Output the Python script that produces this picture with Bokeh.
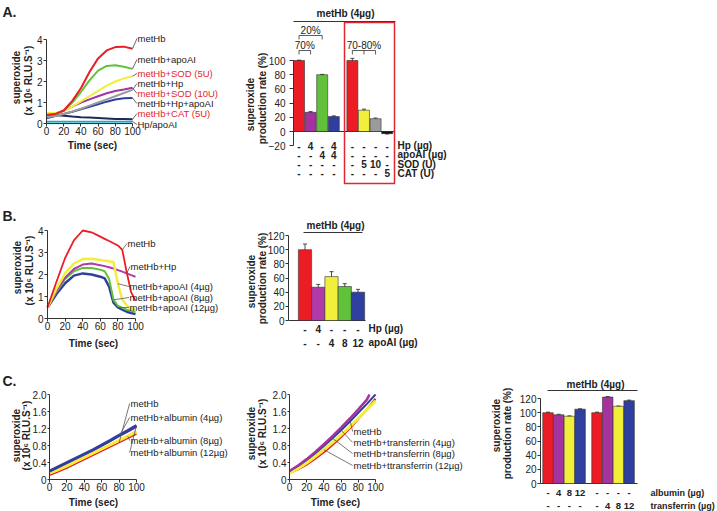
import math
from bokeh.plotting import figure
from bokeh.models import (Range1d, LinearAxis, FixedTicker, ColumnDataSource, LabelSet, Label,
                          Whisker, TeeHead, CustomJSTickFormatter)
from bokeh.layouts import column, row
from bokeh.core.properties import value, field
from bokeh.embed import file_html
from bokeh.resources import INLINE

FONT = "Liberation Sans"
INK = "#222222"
RED = "#ec1c24"
LRED = "#e3262b"
PURPLE = "#a4329f"
MAGENTA = "#b13aa9"
GREEN = "#62c13b"
YELLOW = "#f1ef3a"
BLUE = "#2f3f9f"
GRAY = "#9b9b9b"
NAVY = "#1f2a5a"
CYAN = "#7fd8ea"
TEAL = "#3a9fb5"
BLACK = "#111111"

# ---------------- data ----------------
# Panel A (left): superoxide (x 10^6 RLU/s) vs time
A_time = [0, 10, 20, 30, 40, 50, 60, 70, 80, 90, 100]
A_metHb          = [0.40, 0.45, 0.62, 1.08, 1.68, 2.45, 3.10, 3.48, 3.64, 3.66, 3.56]
A_metHb_apoAI    = [0.40, 0.44, 0.60, 1.00, 1.50, 2.05, 2.52, 2.74, 2.77, 2.70, 2.60]
A_metHb_SOD5     = [0.50, 0.50, 0.60, 0.80, 1.05, 1.30, 1.55, 1.80, 2.00, 2.15, 2.25]
A_metHb_Hp       = [0.30, 0.36, 0.45, 0.57, 0.70, 0.85, 1.00, 1.15, 1.30, 1.45, 1.60]
A_metHb_SOD10    = [0.35, 0.45, 0.60, 0.80, 1.00, 1.15, 1.30, 1.44, 1.55, 1.62, 1.70]
A_metHb_Hp_apoAI = [0.25, 0.35, 0.45, 0.56, 0.68, 0.80, 0.92, 1.04, 1.14, 1.20, 1.22]
A_metHb_CAT      = [0.45, 0.41, 0.37, 0.33, 0.30, 0.28, 0.26, 0.24, 0.22, 0.21, 0.20]
A_Hp_alone       = [0.10, 0.10, 0.10, 0.10, 0.10, 0.10, 0.10, 0.10, 0.10, 0.10, 0.10]
A_apoAI_alone    = [0.04, 0.04, 0.04, 0.04, 0.04, 0.04, 0.04, 0.04, 0.04, 0.04, 0.04]
A_names = ["metHb", "metHb+apoAI", "metHb+SOD (5U)", "metHb+Hp", "metHb+SOD (10U)",
           "metHb+Hp+apoAI", "metHb+CAT (5U)", "Hp/apoAI"]

# Panel A (right): production rate (%)
A_bar_values = [100, 27, 80, 21, 100, 30, 18, -3]
A_bar_err = [0.5, 1.0, 0.5, 1.0, 3.0, 1.5, 1.0, 0.5]
A_row_names = ["Hp (µg)", "apoAI (µg)", "SOD (U)", "CAT (U)"]
A_row_Hp = ["-", "4", "-", "4", "-", "-", "-", "-"]
A_row_apoAI = ["-", "-", "4", "4", "-", "-", "-", "-"]
A_row_SOD = ["-", "-", "-", "-", "-", "5", "10", "-"]
A_row_CAT = ["-", "-", "-", "-", "-", "-", "-", "5"]
A_brackets = ["20%", "70%", "70-80%"]

# Panel B (left)
B_time = [0, 10, 20, 30, 40, 50, 60, 65, 70, 75, 80, 85, 90, 95, 100]
B_metHb    = [0.50, 1.65, 2.75, 3.55, 4.00, 3.92, 3.72, 3.62, 3.52, 3.42, 3.32, 3.12, 2.10, 1.20, 0.80]
B_apoAI4   = [0.50, 1.35, 2.05, 2.50, 2.70, 2.72, 2.66, 2.62, 2.60, 2.56, 1.58, 0.85, 0.60, 0.46, 0.38]
B_Hp       = [0.50, 1.25, 1.85, 2.25, 2.45, 2.50, 2.42, 2.38, 2.33, 2.27, 2.20, 2.13, 2.05, 1.97, 1.90]
B_apoAI8   = [0.50, 1.20, 1.80, 2.15, 2.30, 2.30, 2.22, 2.15, 1.80, 0.85, 0.58, 0.48, 0.40, 0.34, 0.30]
B_apoAI12  = [0.50, 1.10, 1.60, 1.95, 2.05, 2.00, 1.90, 1.82, 1.45, 0.72, 0.50, 0.40, 0.31, 0.25, 0.20]
B_names = ["metHb", "metHb+Hp", "metHb+apoAI (4µg)", "metHb+apoAI (8µg)", "metHb+apoAI (12µg)"]

# Panel B (right)
B_bar_values = [100, 47, 62, 48, 40]
B_bar_err = [8, 4, 7, 4, 4]
B_row_names = ["Hp (µg)", "apoAI (µg)"]
B_row_Hp = ["-", "4", "-", "-", "-"]
B_row_apoAI = ["-", "-", "4", "8", "12"]

# Panel C (left): albumin
C_time = [0, 10, 20, 30, 40, 50, 60, 70, 80, 90, 100]
C_alb_metHb = [0.10, 0.18, 0.27, 0.37, 0.47, 0.57, 0.67, 0.77, 0.87, 0.97, 1.07]
C_alb_4     = [0.19, 0.29, 0.39, 0.49, 0.59, 0.69, 0.80, 0.91, 1.02, 1.13, 1.24]
C_alb_8     = [0.15, 0.23, 0.32, 0.42, 0.52, 0.62, 0.72, 0.82, 0.92, 1.02, 1.13]
C_alb_12    = [0.20, 0.30, 0.40, 0.50, 0.60, 0.70, 0.81, 0.92, 1.04, 1.15, 1.27]
C_alb_names = ["metHb", "metHb+albumin (4µg)", "metHb+albumin (8µg)", "metHb+albumin (12µg)"]

# Panel C (middle): transferrin
C_tf_time4 = [0, 10, 20, 30, 40, 50, 60, 70, 80, 90, 93]
C_tf_metHb = [0.15, 0.24, 0.35, 0.49, 0.64, 0.81, 1.00, 1.20, 1.42, 1.65, 1.90]
C_tf_4     = [0.20, 0.33, 0.48, 0.65, 0.83, 1.02, 1.22, 1.43, 1.65, 1.88, 2.00]
C_tf_8     = [0.15, 0.26, 0.39, 0.54, 0.70, 0.87, 1.05, 1.24, 1.44, 1.64, 1.85]
C_tf_12    = [0.20, 0.32, 0.46, 0.62, 0.79, 0.97, 1.16, 1.36, 1.57, 1.78, 2.00]
C_tf_names = ["metHb", "metHb+transferrin (4µg)", "metHb+transferrin (8µg)",
              "metHb+ttransferrin (12µg)"]

# Panel C (right)
C_bar_values = [100, 97, 95, 105, 100, 122, 109, 117]
C_bar_err = [0.8, 0.8, 0.5, 0.5, 0.8, 0.8, 0.5, 0.8]
C_row_names = ["albumin (µg)", "transferrin (µg)"]
C_row_alb = ["-", "4", "8", "12", "-", "-", "-", "-"]
C_row_tf = ["-", "-", "-", "-", "-", "4", "8", "12"]

TITLE_LINE = ["superoxide", "(x 10\u2076 RLU.S\u207b\u00b9)"]
TITLE_BAR = ["superoxide", "production rate (%)"]


# ---------------- helpers ----------------
def make_fig(ox, oy, w, h, ax, sx, ay, sy):
    """The plot frame fills the whole canvas. ax/ay = (data value, page pixel) anchors;
    sx/sy = pixels per data unit."""
    x0 = ax[0] - (ax[1] - ox) / sx
    y0 = ay[0] - (oy + h - ay[1]) / sy
    p = figure(width=w, height=h, x_range=Range1d(x0, x0 + w / sx),
               y_range=Range1d(y0, y0 + h / sy), output_backend="svg",
               toolbar_location=None, x_axis_type=None, y_axis_type=None,
               min_border=0, min_border_left=0, min_border_right=0, min_border_top=0,
               min_border_bottom=0)
    p.outline_line_color = None
    p.background_fill_color = "white"
    p.border_fill_color = "white"

    def X(px):
        return x0 + (px - ox) / sx

    def Y(py):
        return y0 + (oy + h - py) / sy
    return p, X, Y


def style_axis(ax, tick_out, standoff):
    ax.axis_line_color = "#333333"
    ax.axis_line_width = 1
    ax.major_tick_line_color = "#333333"
    ax.major_tick_out = tick_out
    ax.major_tick_in = 0
    ax.minor_tick_out = 0
    ax.minor_tick_in = 0
    ax.major_label_standoff = standoff
    ax.major_label_text_font = FONT
    ax.major_label_text_font_size = "10px"
    ax.major_label_text_color = INK


def y_axis(p, at, bounds, ticks, tick_out=3, standoff=1, decimals=False):
    ax = LinearAxis(bounds=bounds, ticker=FixedTicker(ticks=ticks), fixed_location=at)
    if decimals:
        ax.formatter = CustomJSTickFormatter(code="return tick == 0 ? '0' : tick.toFixed(1);")
    style_axis(ax, tick_out, standoff)
    p.add_layout(ax, "left")


def x_axis(p, bounds, ticks):
    ax = LinearAxis(bounds=bounds, ticker=FixedTicker(ticks=ticks), fixed_location=0)
    style_axis(ax, 3, 0)
    p.add_layout(ax, "below")


def texts(p, xs, ys, tx, size="10px", style="normal", align="left", baseline="middle",
          colors=None, color=INK, angle=0.0):
    cols = list(colors) if colors is not None else [color] * len(tx)
    src = ColumnDataSource(dict(x=list(xs), y=list(ys), t=list(tx), c=cols))
    p.add_layout(LabelSet(x="x", y="y", text="t", source=src, text_color=field("c"),
                          text_font=value(FONT), text_font_size=value(size),
                          text_font_style=style, text_align=align, text_baseline=baseline,
                          angle=angle))


def y_title(p, X, Y, lines, xs_px, ys_px):
    texts(p, [X(v) for v in xs_px], [Y(v) for v in ys_px], lines, style="bold",
          align="center", angle=math.pi / 2)


def letter(p, X, Y, txt, py):
    p.add_layout(Label(x=X(2), y=Y(py), text=txt, text_font=FONT, text_font_size="14px",
                       text_font_style="bold", text_color=INK, text_baseline="middle",
                       text_align="left"))


def bars(p, xs, vals, errs, colors, width):
    p.vbar(x=xs, top=vals, bottom=0, width=width, fill_color=colors,
           line_color="#333333", line_width=0.6)
    src = ColumnDataSource(dict(x=xs, up=[v + e for v, e in zip(vals, errs)],
                                lo=[v - e for v, e in zip(vals, errs)]))
    p.add_layout(Whisker(base="x", upper="up", lower="lo", source=src, line_color="#222222",
                         line_width=0.8,
                         upper_head=TeeHead(size=4, line_color="#222222", line_width=0.8),
                         lower_head=TeeHead(size=4, line_color="#222222", line_width=0.8)))


def grouped_x(n, group, gap):
    return [i + (gap if i >= group else 0) for i in range(n)]


# ================= Panel A, left =================
pA1, XA1, YA1 = make_fig(0, 0, 243, 200, (0, 46), 0.86, (0, 123), 21)
y_axis(pA1, 0, (0, 4), [0, 1, 2, 3, 4], tick_out=3, standoff=1)
x_axis(pA1, (0, 100), [0, 20, 40, 60, 80, 100])
y_title(pA1, XA1, YA1, TITLE_LINE, [16, 28], [77, 80])
texts(pA1, [XA1(92)], [YA1(145)], ["Time (sec)"], style="bold", align="center")
A_series = [A_metHb, A_metHb_apoAI, A_metHb_SOD5, A_metHb_Hp, A_metHb_SOD10,
            A_metHb_Hp_apoAI, A_metHb_CAT, A_Hp_alone]
A_colors = [RED, GREEN, YELLOW, GRAY, PURPLE, BLUE, NAVY, TEAL]
pA1.line(A_time, A_apoAI_alone, line_color=CYAN, line_width=3)
pA1.line(A_time, A_Hp_alone, line_color=TEAL, line_width=1.5)
for s, c in list(zip(A_series, A_colors))[6::-1]:
    pA1.line(A_time, s, line_color=c, line_width=2)
A_label_y = [YA1(38), YA1(59), YA1(73), YA1(83), YA1(93), YA1(103), YA1(113), YA1(124)]
A_label_x = XA1(137)
pA1.segment(x0=[A_time[-1]] * 8, y0=[s[-1] for s in A_series], x1=[A_label_x - 0.6] * 8,
            y1=A_label_y, line_color="#444444", line_width=0.8)
texts(pA1, [A_label_x] * 8, A_label_y, A_names, size="9.5px",
      colors=[INK, INK, LRED, INK, LRED, INK, LRED, INK])
letter(pA1, XA1, YA1, "A.", 11)

# ================= Panel A, right =================
pA2, XA2, YA2 = make_fig(243, 0, 217, 200, (0, 298.5), 11.6, (0, 131), 0.71)
y_axis(pA2, XA2(293), (-20, 100), [-20, 0, 20, 40, 60, 80, 100], tick_out=4, standoff=4)
y_title(pA2, XA2, YA2, TITLE_BAR, [250, 262], [104, 98])
A_bx = grouped_x(8, 4, 0.6)
A_bar_colors = [RED, PURPLE, GREEN, BLUE, RED, YELLOW, GRAY, BLACK]
pA2.segment(x0=[XA2(293)], y0=[0], x1=[XA2(394)], y1=[0], line_color="#333333", line_width=1)
bars(pA2, A_bx, A_bar_values, A_bar_err, A_bar_colors, 0.95)
texts(pA2, [XA2(345)], [YA2(13)], ["metHb (4µg)"], style="bold", align="center")
pA2.segment(x0=[XA2(293)], y0=[YA2(21)], x1=[XA2(395)], y1=[YA2(21)], line_color="#333333",
            line_width=1)
b_hi, b_lo = YA2(35), YA2(39)
c_hi, c_lo = YA2(50), YA2(54)
pA2.multi_line(
    xs=[[A_bx[0], A_bx[0], A_bx[2], A_bx[2]], [A_bx[0], A_bx[0], A_bx[1], A_bx[1]],
        [A_bx[4], A_bx[4], A_bx[6], A_bx[6]], [A_bx[5], A_bx[5]]],
    ys=[[b_lo, b_hi, b_hi, b_lo], [c_lo, c_hi, c_hi, c_lo], [c_lo, c_hi, c_hi, c_lo],
        [c_hi, c_lo]],
    line_color="#333333", line_width=0.8)
texts(pA2, [(A_bx[0] + A_bx[2]) / 2, (A_bx[0] + A_bx[1]) / 2, A_bx[5]],
      [YA2(30), YA2(45), YA2(45)], A_brackets, align="center")
pA2.quad(left=[XA2(344)], right=[XA2(394)], top=[YA2(22)], bottom=[YA2(183)],
         fill_color=None, line_color="#e0262e", line_width=1.5)
A_rows = [A_row_Hp, A_row_apoAI, A_row_SOD, A_row_CAT]
for k, (nm, vals) in enumerate(zip(A_row_names, A_rows)):
    yy = YA2(145 + 9.3 * k)
    texts(pA2, A_bx, [yy] * 8, vals, style="bold", align="center")
    texts(pA2, [XA2(397)], [yy], [nm], style="bold")

# ================= Panel B, left =================
pB1, XB1, YB1 = make_fig(0, 200, 241, 158, (0, 47), 0.88, (0, 318), 22)
y_axis(pB1, 0, (0, 4), [0, 1, 2, 3, 4], tick_out=3, standoff=1)
x_axis(pB1, (0, 100), [0, 20, 40, 60, 80, 100])
y_title(pB1, XB1, YB1, TITLE_LINE, [17, 29], [267, 270])
texts(pB1, [XB1(93)], [YB1(343)], ["Time (sec)"], style="bold", align="center")
B_series = [B_metHb, B_Hp, B_apoAI4, B_apoAI8, B_apoAI12]
for s, c, lw in [(B_apoAI12, BLUE, 2.5), (B_apoAI8, GREEN, 2), (B_Hp, MAGENTA, 2),
                 (B_apoAI4, YELLOW, 2.5), (B_metHb, RED, 1.8)]:
    pB1.line(B_time, s, line_color=c, line_width=lw)
B_label_x = [XB1(127), XB1(130), XB1(129), XB1(129), XB1(129)]
B_label_y = [YB1(243), YB1(266), YB1(286), YB1(297), YB1(307)]
B_anchor_t = [85, 90, 80, 75, 80]
B_anchor_y = [s[B_time.index(t)] for s, t in zip(B_series, B_anchor_t)]
pB1.segment(x0=B_anchor_t, y0=B_anchor_y, x1=[x - 0.6 for x in B_label_x], y1=B_label_y,
            line_color="#555555", line_width=0.8)
texts(pB1, B_label_x, B_label_y, B_names, size="9.5px")
letter(pB1, XB1, YB1, "B.", 215)

# ================= Panel B, right =================
pB2, XB2, YB2 = make_fig(241, 200, 219, 158, (0, 304.5), 13.25, (0, 320), 0.708)
y_axis(pB2, XB2(288), (0, 120), [0, 20, 40, 60, 80, 100, 120], tick_out=3, standoff=1)
y_title(pB2, XB2, YB2, TITLE_BAR, [251, 262], [281, 278])
B_bx = grouped_x(5, 5, 0)
pB2.segment(x0=[XB2(288)], y0=[0], x1=[XB2(365)], y1=[0], line_color="#333333", line_width=1)
bars(pB2, B_bx, B_bar_values, B_bar_err, [RED, MAGENTA, YELLOW, GREEN, BLUE], 1.0)
texts(pB2, [XB2(335)], [YB2(225)], ["metHb (4µg)"], style="bold", align="center")
pB2.segment(x0=[XB2(303)], y0=[YB2(232)], x1=[XB2(362)], y1=[YB2(232)], line_color="#333333",
            line_width=1)
for k, (nm, vals) in enumerate(zip(B_row_names, [B_row_Hp, B_row_apoAI])):
    yy = YB2(328 + 14 * k)
    texts(pB2, B_bx, [yy] * 5, vals, style="bold", align="center")
    texts(pB2, [XB2(368)], [yy], [nm], style="bold")

# ================= Panel C, left =================
pC1, XC1, YC1 = make_fig(0, 358, 243, 153, (0, 49), 0.87, (0, 479), 42.5)
y_axis(pC1, 0, (0, 2), [0, 0.4, 0.8, 1.2, 1.6, 2.0], tick_out=2, standoff=1, decimals=True)
x_axis(pC1, (0, 100), [0, 20, 40, 60, 80, 100])
y_title(pC1, XC1, YC1, TITLE_LINE, [16, 26], [435, 435])
texts(pC1, [XC1(93)], [YC1(502)], ["Time (sec)"], style="bold", align="center")
for s, c, lw in [(C_alb_metHb, RED, 1.5), (C_alb_8, YELLOW, 3), (C_alb_4, PURPLE, 2.2),
                 (C_alb_12, BLUE, 3)]:
    pC1.line(C_time, s, line_color=c, line_width=lw)
C1_label_y = [YC1(403), YC1(417), YC1(440), YC1(452)]
C1_label_x = XC1(130)
C1_series = [C_alb_metHb, C_alb_4, C_alb_8, C_alb_12]
C1_anchor_t = [80, 80, 90, 100]
C1_anchor_y = [s[C_time.index(t)] for s, t in zip(C1_series, C1_anchor_t)]
pC1.segment(x0=C1_anchor_t, y0=C1_anchor_y, x1=[C1_label_x - 1] * 4, y1=C1_label_y,
            line_color="#555555", line_width=0.8)
texts(pC1, [C1_label_x] * 4, C1_label_y, C_alb_names, size="9.5px")
letter(pC1, XC1, YC1, "C.", 380)

# ================= Panel C, middle =================
pC2, XC2, YC2 = make_fig(243, 358, 222, 153, (0, 289), 0.86, (0, 479), 42.5)
y_axis(pC2, 0, (0, 2), [0, 0.4, 0.8, 1.2, 1.6, 2.0], tick_out=2, standoff=1, decimals=True)
x_axis(pC2, (0, 100), [0, 20, 40, 60, 80, 100])
y_title(pC2, XC2, YC2, TITLE_LINE, [251, 262], [433, 433])
texts(pC2, [XC2(335)], [YC2(502)], ["Time (sec)"], style="bold", align="center")
pC2.line(C_time, C_tf_metHb, line_color=RED, line_width=2)
pC2.line(C_time, C_tf_8, line_color=YELLOW, line_width=3)
pC2.line(C_time, C_tf_12, line_color=BLUE, line_width=2)
pC2.line(C_tf_time4, C_tf_4, line_color=PURPLE, line_width=2.5)
C2_label_y = [YC2(431), YC2(442), YC2(453), YC2(465)]
C2_label_x = XC2(353)
C2_series = [C_tf_4, C_tf_12, C_tf_12, C_tf_8]
C2_anchor_t = [70, 60, 50, 40]
C2_anchor_y = [s[C_time.index(t)] for s, t in zip(C2_series, C2_anchor_t)]
pC2.segment(x0=C2_anchor_t, y0=C2_anchor_y, x1=[C2_label_x - 1] * 4, y1=C2_label_y,
            line_color="#555555", line_width=0.8)
texts(pC2, [C2_label_x] * 4, C2_label_y, C_tf_names, size="9.5px")

# ================= Panel C, right =================
pC3, XC3, YC3 = make_fig(465, 358, 252, 153, (0, 547.5), 10.7, (0, 483), 0.708)
y_axis(pC3, XC3(540), (0, 120), [0, 20, 40, 60, 80, 100, 120], tick_out=3, standoff=1)
y_title(pC3, XC3, YC3, TITLE_BAR, [496, 507], [425, 433])
C_bx = grouped_x(8, 4, 0.58)
pC3.segment(x0=[XC3(540)], y0=[0], x1=[XC3(637)], y1=[0], line_color="#333333", line_width=1)
bars(pC3, C_bx, C_bar_values, C_bar_err, [RED, PURPLE, YELLOW, BLUE] * 2, 0.98)
texts(pC3, [XC3(595)], [YC3(384)], ["metHb (4µg)"], style="bold", align="center")
pC3.segment(x0=[XC3(547)], y0=[YC3(390)], x1=[XC3(637)], y1=[YC3(390)], line_color="#333333",
            line_width=1)
for k, (nm, vals) in enumerate(zip(C_row_names, [C_row_alb, C_row_tf])):
    yy = YC3(492 + 13 * k)
    texts(pC3, C_bx, [yy] * 8, vals, size="9.5px", style="bold", align="center")
    texts(pC3, [XC3(650)], [yy], [nm], size="9px", style="bold")

layout = column(row(pA1, pA2), row(pB1, pB2), row(pC1, pC2, pC3))
open("out.html", "w").write(file_html(layout, INLINE))
